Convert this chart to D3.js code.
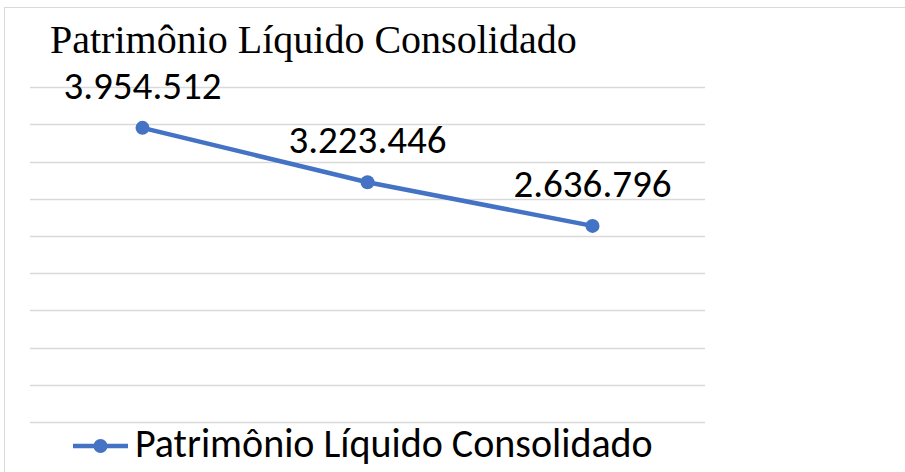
<!DOCTYPE html>
<html>
<head>
<meta charset="utf-8">
<script src="https://cdn.jsdelivr.net/npm/d3@7"></script>
<style>
  html, body { margin: 0; padding: 0; background: #fff; }
</style>
</head>
<body>
<div id="chart"></div>
<script>
// Data (category labels are hidden in the original chart)
const categories = ["1", "2", "3"];
const values = [3954512, 3223446, 2636796];
const seriesName = "Patrimônio Líquido Consolidado";
const yTicks = [0, 500000, 1000000, 1500000, 2000000, 2500000, 3000000, 3500000, 4000000, 4500000];

const width = 905;
const height = 472;
const lineColor = "#4472C4";
const gridColor = "#d9d9d9";
const sansFont = "Carlito, 'Open Sans', sans-serif";

// Brazilian number format: 3.954.512
const ptBR = d3.formatLocale({ decimal: ",", thousands: ".", grouping: [3], currency: ["R$", ""] });
const fmt = ptBR.format(",d");

const svg = d3.select("#chart")
  .append("svg")
  .attr("width", width)
  .attr("height", height);

// Chart area border (continues off the right/bottom edges)
svg.append("rect")
  .attr("x", 4.5)
  .attr("y", 7.5)
  .attr("width", 1200)
  .attr("height", 1200)
  .attr("fill", "#fff")
  .attr("stroke", gridColor)
  .attr("stroke-width", 1);

// Scales
const x = d3.scaleBand()
  .domain(categories)
  .range([30, 705]);

const y = d3.scaleLinear()
  .domain([0, d3.max(yTicks)])
  .range([422, 87.3]);

// Gridlines
svg.append("g")
  .selectAll("line")
  .data(yTicks)
  .join("line")
  .attr("x1", x.range()[0])
  .attr("x2", x.range()[1])
  .attr("y1", d => Math.round(y(d)) + 0.5)
  .attr("y2", d => Math.round(y(d)) + 0.5)
  .attr("stroke", gridColor)
  .attr("stroke-width", 1.3);

// Title
svg.append("text")
  .attr("x", 50)
  .attr("y", 53)
  .style("font-family", "'Liberation Serif', 'Times New Roman', serif")
  .style("font-size", "40px")
  .style("fill", "#000")
  .text(seriesName);

const cx = d => x(d) + x.bandwidth() / 2;
const points = categories.map((c, i) => ({ c, v: values[i] }));

// Line
const line = d3.line()
  .x(d => cx(d.c))
  .y(d => y(d.v));

svg.append("path")
  .datum(points)
  .attr("d", line)
  .attr("fill", "none")
  .attr("stroke", lineColor)
  .attr("stroke-width", 4.5)
  .attr("stroke-linejoin", "round");

// Markers
svg.append("g")
  .selectAll("circle")
  .data(points)
  .join("circle")
  .attr("cx", d => cx(d.c))
  .attr("cy", d => y(d.v))
  .attr("r", 7)
  .attr("fill", lineColor);

// Data labels
svg.append("g")
  .selectAll("text")
  .data(points)
  .join("text")
  .attr("x", d => cx(d.c))
  .attr("y", d => y(d.v) - 29)
  .attr("text-anchor", "middle")
  .style("font-family", sansFont)
  .style("font-size", "39px")
  .style("fill", "#000")
  .text(d => fmt(d.v));

// Legend
const legend = svg.append("g").attr("transform", "translate(0,446)");
legend.append("line")
  .attr("x1", 73)
  .attr("x2", 128)
  .attr("stroke", lineColor)
  .attr("stroke-width", 4.5);
legend.append("circle")
  .attr("cx", 100.5)
  .attr("r", 7)
  .attr("fill", lineColor);
legend.append("text")
  .attr("x", 135)
  .attr("y", 11)
  .style("font-family", sansFont)
  .style("font-size", "40px")
  .style("fill", "#000")
  .text(seriesName);
</script>
</body>
</html>
